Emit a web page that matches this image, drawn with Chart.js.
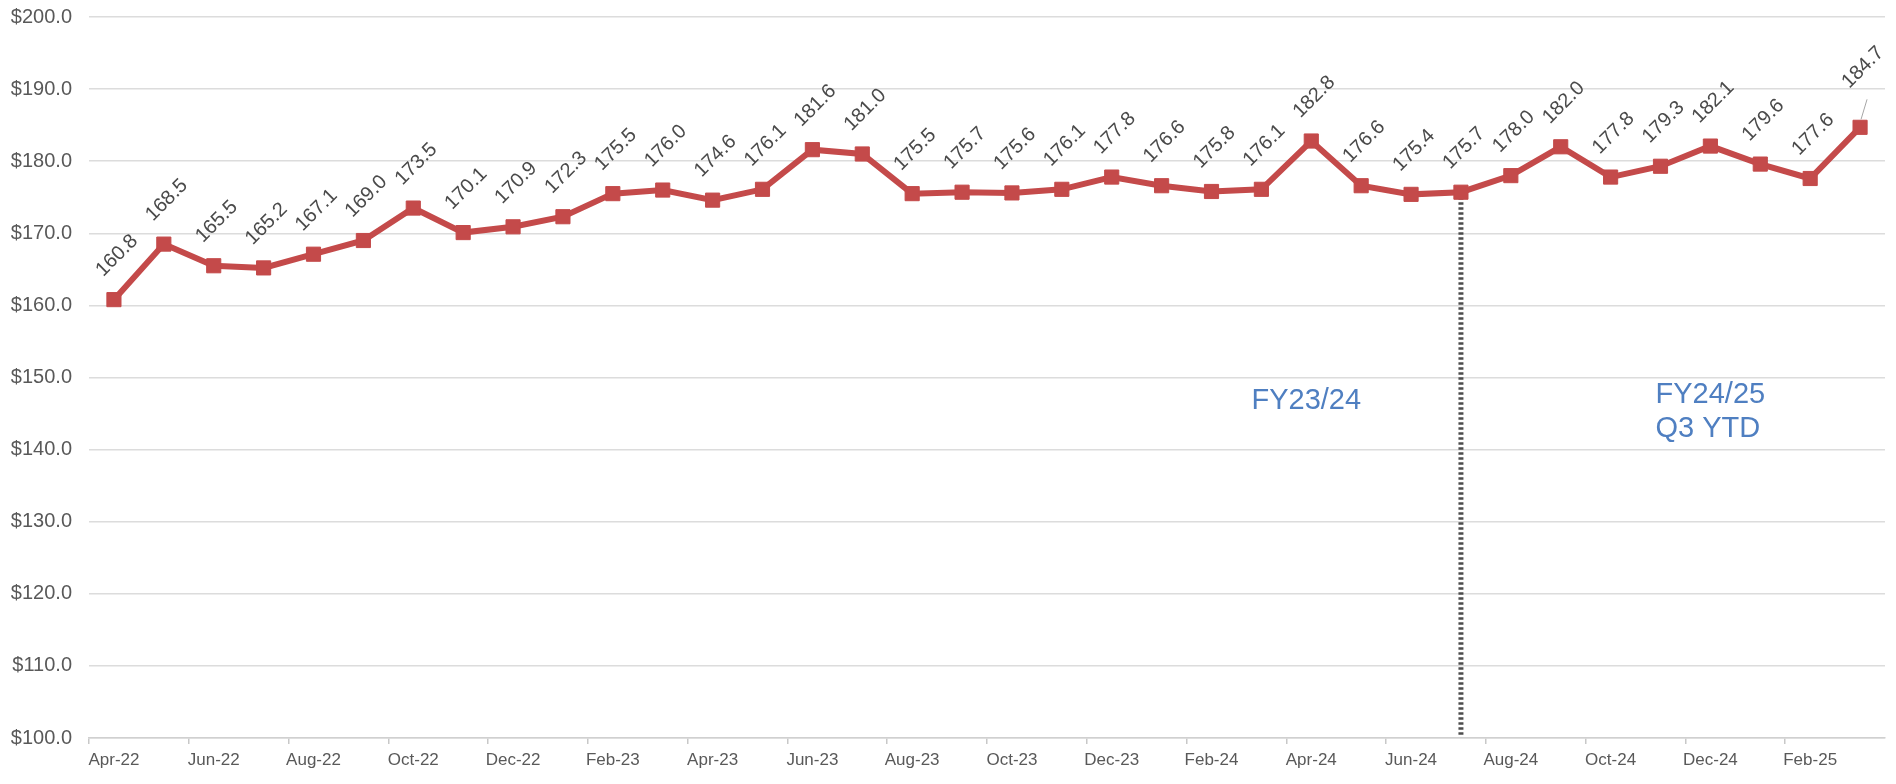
<!DOCTYPE html>
<html lang="en">
  <head>
    <meta charset="UTF-8" />
    <title>Monthly cost trend</title>
    <style>
      * {
        box-sizing: border-box;
      }

      body {
        margin: 0;
        background: #ffffff;
        font-family: "Liberation Sans", Arial, sans-serif;
      }

      .chart-wrap {
        width: 1896px;
        height: 784px;
        position: relative;
      }
    </style>
  </head>
  <body>
    <script src="https://cdn.jsdelivr.net/npm/chart.js@4.4.1/dist/chart.umd.min.js"></script>

    <div class="chart-wrap">
      <canvas id="line-chart"></canvas>
    </div>

    <script>
      // months Apr-22 .. Mar-25
      const months = [
        "Apr-22", "May-22", "Jun-22", "Jul-22", "Aug-22", "Sep-22",
        "Oct-22", "Nov-22", "Dec-22", "Jan-23", "Feb-23", "Mar-23",
        "Apr-23", "May-23", "Jun-23", "Jul-23", "Aug-23", "Sep-23",
        "Oct-23", "Nov-23", "Dec-23", "Jan-24", "Feb-24", "Mar-24",
        "Apr-24", "May-24", "Jun-24", "Jul-24", "Aug-24", "Sep-24",
        "Oct-24", "Nov-24", "Dec-24", "Jan-25", "Feb-25", "Mar-25"
      ];

      const costs = [
        160.8, 168.5, 165.5, 165.2, 167.1, 169.0,
        173.5, 170.1, 170.9, 172.3, 175.5, 176.0,
        174.6, 176.1, 181.6, 181.0, 175.5, 175.7,
        175.6, 176.1, 177.8, 176.6, 175.8, 176.1,
        182.8, 176.6, 175.4, 175.7, 178.0, 182.0,
        177.8, 179.3, 182.1, 179.6, 177.6, 184.7
      ];

      // y axis
      const yMin = 100;
      const yMax = 200;
      const yStep = 10;

      // index of the month where the year split line sits (Jul-24)
      const splitIndex = 27;

      // text notes: x is a category index, y a value on the y axis
      const notes = [
        { text: "FY23/24", x: 23.9, y: 146.7, align: "center" },
        { text: "FY24/25", x: 30.9, y: 147.6, align: "left" },
        { text: "Q3 YTD", x: 30.9, y: 142.9, align: "left" }
      ];

      const lineColor = "#c44a4a";
      const textGray = "#595959";

      const splitLine = {
        id: "splitLine",
        beforeDatasetsDraw(chart) {
          const pt = chart.getDatasetMeta(0).data[splitIndex];
          const ctx = chart.ctx;
          ctx.save();
          ctx.strokeStyle = "#4d4d4d";
          ctx.lineWidth = 5;
          ctx.setLineDash([2.5, 2.5]);
          ctx.beginPath();
          ctx.moveTo(pt.x, pt.y);
          ctx.lineTo(pt.x, chart.chartArea.bottom - 2);
          ctx.stroke();
          ctx.restore();
        }
      };

      const pointLabels = {
        id: "pointLabels",
        afterDatasetsDraw(chart) {
          const ctx = chart.ctx;
          const pts = chart.getDatasetMeta(0).data;
          const last = pts.length - 1;
          ctx.save();
          ctx.font = "20px 'Liberation Sans', Arial, sans-serif";
          ctx.fillStyle = "#4a4a4a";
          ctx.textAlign = "center";
          ctx.textBaseline = "middle";
          pts.forEach((p, i) => {
            let dy = 44;
            let dx = 3;
            if (i === last) {
              dy = 60;
              ctx.save();
              ctx.strokeStyle = "#a6a6a6";
              ctx.lineWidth = 1;
              ctx.beginPath();
              ctx.moveTo(p.x + 1, p.y - 8);
              ctx.lineTo(p.x + 7, p.y - 28);
              ctx.stroke();
              ctx.restore();
            }
            ctx.save();
            ctx.translate(p.x + dx, p.y - dy);
            ctx.rotate(-Math.PI / 4);
            ctx.fillText(costs[i].toFixed(1), 0, 0);
            ctx.restore();
          });
          ctx.restore();
        }
      };

      const noteText = {
        id: "noteText",
        afterDraw(chart) {
          const ctx = chart.ctx;
          const xs = chart.scales.x;
          const ys = chart.scales.y;
          ctx.save();
          ctx.font = "29px 'Liberation Sans', Arial, sans-serif";
          ctx.fillStyle = "#4f7fc1";
          ctx.textBaseline = "middle";
          notes.forEach(n => {
            ctx.textAlign = n.align;
            ctx.fillText(n.text, xs.getPixelForValue(n.x), ys.getPixelForValue(n.y));
          });
          ctx.restore();
        }
      };

      new Chart(document.getElementById("line-chart"), {
        type: "line",
        data: {
          labels: months,
          datasets: [
            {
              data: costs,
              borderColor: lineColor,
              backgroundColor: lineColor,
              borderWidth: 6,
              pointStyle: "rect",
              pointRadius: 10,
              pointBorderWidth: 1,
              pointBorderColor: lineColor,
              pointBackgroundColor: lineColor,
              fill: false,
              tension: 0
            }
          ]
        },
        options: {
          responsive: true,
          maintainAspectRatio: false,
          animation: false,
          layout: {
            padding: { left: 0, right: 7, top: 17, bottom: 0 }
          },
          plugins: {
            legend: { display: false },
            tooltip: { enabled: false }
          },
          scales: {
            x: {
              offset: true,
              grid: {
                offset: true,
                drawOnChartArea: false,
                drawTicks: true,
                tickLength: 6,
                lineWidth: 1.5,
                color: c => (c.index % 2 === 0 ? "#c8c8c8" : "rgba(0,0,0,0)")
              },
              border: { display: true, color: "#d0d0d0", width: 1.5 },
              ticks: {
                autoSkip: false,
                maxRotation: 0,
                minRotation: 0,
                padding: 6,
                color: textGray,
                font: { size: 17, family: "'Liberation Sans', Arial, sans-serif" },
                callback: function (v, i) {
                  return i % 2 === 0 ? months[i] : "";
                }
              },
              afterFit(scale) {
                scale.height = 46;
              }
            },
            y: {
              min: yMin,
              max: yMax,
              grid: {
                color: "#dcdcdc",
                lineWidth: 1.5,
                drawTicks: false
              },
              border: { display: false },
              ticks: {
                stepSize: yStep,
                padding: 17,
                color: textGray,
                font: { size: 20, family: "'Liberation Sans', Arial, sans-serif" },
                callback: v => "$" + v.toFixed(1)
              },
              afterFit(scale) {
                scale.width = 89;
                scale.paddingTop = 0;
              }
            }
          }
        },
        plugins: [splitLine, pointLabels, noteText]
      });
    </script>
  </body>
</html>
